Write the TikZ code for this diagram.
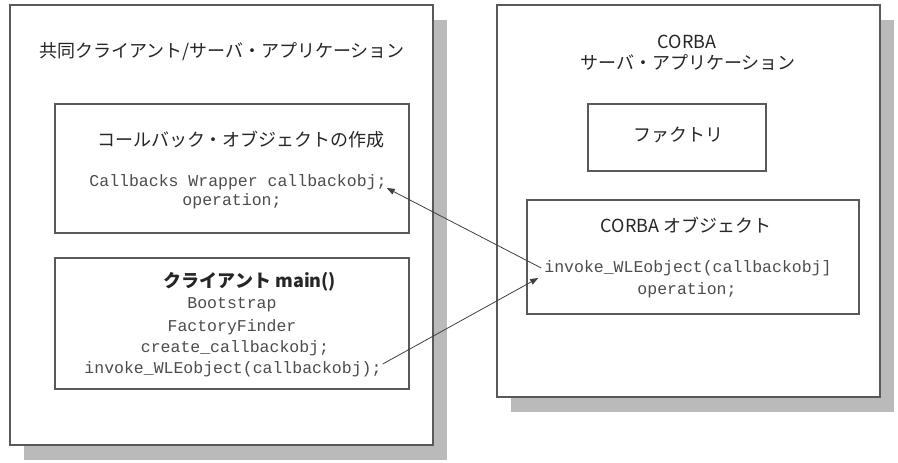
\documentclass[tikz,border=0pt]{standalone}
\usepackage{fontspec}
\setmainfont{Noto Sans CJK JP}
\newfontfamily\mono{Liberation Mono}
\usetikzlibrary{arrows.meta,shadows}
\begin{document}
\begin{tikzpicture}[x=1pt,y=-1pt,
  frame/.style={draw=black!65, line width=1.3pt, fill=white, inner sep=0pt},
  outer/.style={frame, drop shadow={shadow xshift=14pt, shadow yshift=-15pt, fill=black!27, opacity=1}},
  title/.style={font=\fontsize{18}{21}\selectfont, text=black!85, inner sep=0pt},
  code/.style={font=\mono\fontsize{16.5}{21}\selectfont, text=black!70, inner sep=0pt},
  arr/.style={draw=black!75, line width=0.8pt, -{Triangle[length=8pt,width=6pt]}}]
\useasboundingbox (0,0) rectangle (898,463);
% outer boxes
\node[outer, minimum width=423pt, minimum height=440pt] (L) at (221.5,225) {};
\node[outer, minimum width=383pt, minimum height=392pt] (R) at (688.5,201) {};
% inner boxes
\node[frame, minimum width=354pt, minimum height=129pt] (CB) at (232,168.5) {};
\node[frame, minimum width=354pt, minimum height=131pt] (CM) at (232,323.5) {};
\node[frame, minimum width=178pt, minimum height=67pt] (F) at (677,137.5) {};
\node[frame, minimum width=332pt, minimum height=114pt] (CO) at (693,257) {};
% left texts
\node[title] (Lt) at (222,52) {共同クライアント/サーバ・アプリケーション};
\node[title] (CBt) at (241,140) {コールバック・オブジェクトの作成};
\node[code] (cb1) at (238,182) {Callbacks Wrapper callbackobj;};
\node[code] (cb2) at (232,201) {operation;};
\node[title, font=\bfseries\fontsize{18}{21}\selectfont] (CMt) at (250,282) {クライアント main()};
\node[code] (cm1) at (232,305) {Bootstrap};
\node[code] (cm2) at (232,327) {FactoryFinder};
\node[code] (cm3) at (235,348) {create\_callbackobj;};
\node[code] (cm4) at (233,369) {invoke\_WLEobject(callbackobj);};
% right texts
\node[title] (Rt1) at (687,42) {CORBA};
\node[title] (Rt2) at (688,63) {サーバ・アプリケーション};
\node[title] (Ft) at (678,135) {ファクトリ};
\node[title] (COt) at (686,225) {CORBA オブジェクト};
\node[code] (co1) at (688,268) {invoke\_WLEobject(callbackobj]};
\node[code] (co2) at (687,290) {operation;};
% connectors
\draw[arr] ([xshift=-3pt]co1.west) -- ([xshift=0pt,yshift=-6pt]cb1.east);
\draw[arr] ([xshift=1pt,yshift=5pt]cm4.east) -- ([xshift=-6pt,yshift=-10pt]co1.west);
\end{tikzpicture}
\end{document}
